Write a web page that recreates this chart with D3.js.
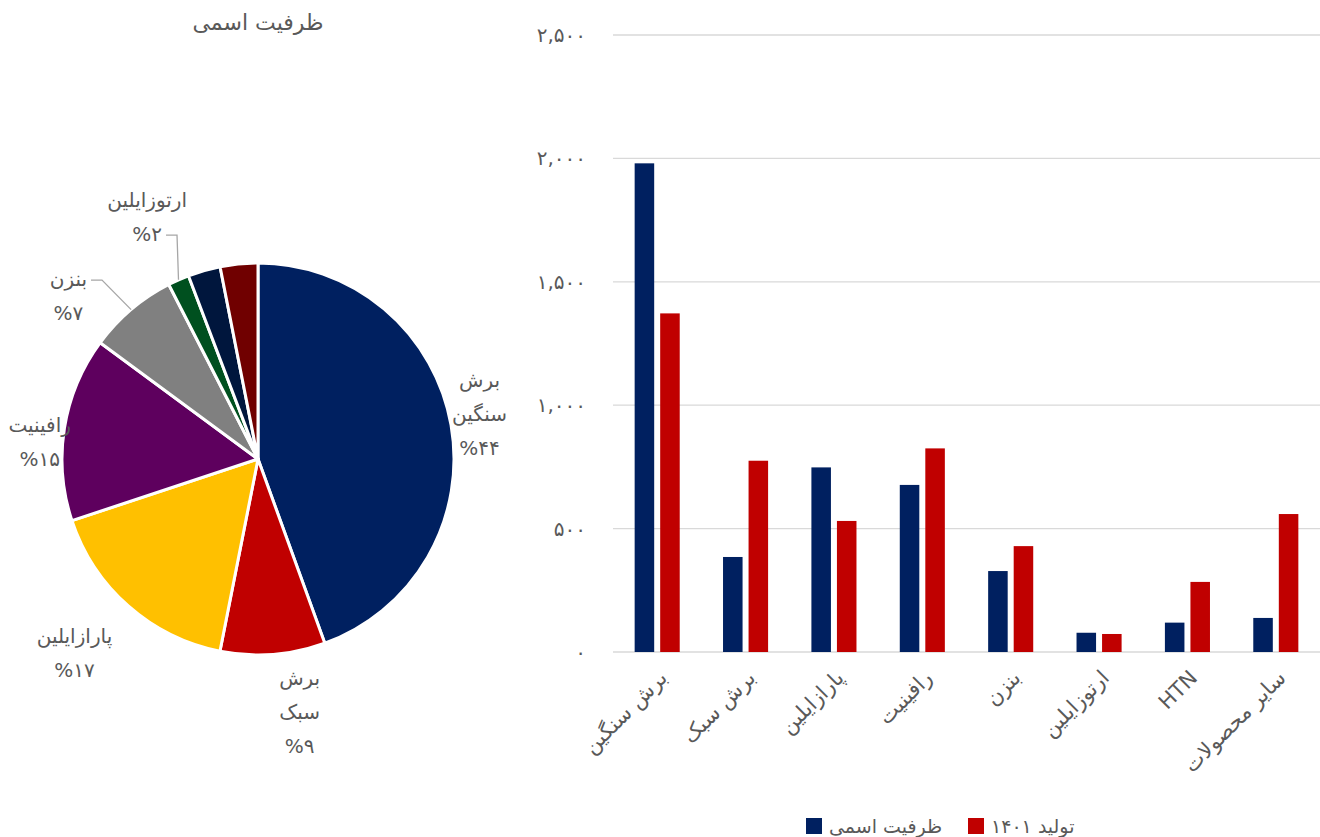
<!DOCTYPE html>
<html>
<head>
<meta charset="utf-8">
<script src="https://cdn.jsdelivr.net/npm/d3@7/dist/d3.min.js"></script>
<style>
  body { margin: 0; background: #fff; }
  svg text { font-family: 'DejaVu Sans', sans-serif; fill: #595959; }
</style>
</head>
<body>
<svg id="chart" width="1320" height="837"></svg>
<script>
// Capacity vs. 1401 production by product, plus a pie of capacity shares.

const categories = ['برش سنگین', 'برش سبک', 'پارازایلین', 'رافینیت', 'بنزن', 'ارتوزایلین', 'HTN', 'سایر محصولات'];
const capacity   = [1980, 385, 748, 677, 328, 78, 119, 138];
const production = [1372, 775, 531, 825, 429, 73, 284, 559];
const yTicks = [0, 500, 1000, 1500, 2000, 2500];
const seriesNames = ['ظرفیت اسمی', '۱۴۰۱ تولید'];
const pieTitle = 'ظرفیت اسمی';
// pie label text (lines); slices without labels get null
const pieLabelLines = [['برش', 'سنگین'], ['برش', 'سبک'], ['پارازایلین'], ['رافینیت'], ['بنزن'], ['ارتوزایلین'], null, null];

const SERIES_COLORS = ['#002060', '#C00000'];
const PIE_COLORS = ['#002060', '#C00000', '#FFC000', '#5E005E', '#808080', '#00501F', '#00163D', '#700000'];
// label placement around the pie: distance from centre, angle nudge (deg), leader line?
const LABEL_PLACE = [
  { d: 226, da: -1.5, leader: false },
  { d: 256, da: -5,   leader: false },
  { d: 267, da: 2,    leader: false },
  { d: 219, da: -4.7, leader: false },
  { d: 250, da: -9,   leader: true, leaderLine: 0 },
  { d: 266, da: -0.7, leader: true, leaderLine: 1 },
];

const FA_DIGITS = '۰۱۲۳۴۵۶۷۸۹';
const toFa = s => String(s).replace(/[0-9]/g, c => FA_DIGITS[+c]);

const svg = d3.select('#chart');

// ---------- Bar chart ----------
const M = { left: 613, right: 1320, top: 35, bottom: 652 };

const x = d3.scaleBand()
  .domain(categories)
  .range([M.left, M.right])
  .paddingInner(0.49)
  .paddingOuter(0.245);

const xs = d3.scaleBand()
  .domain([0, 1])
  .range([0, x.bandwidth()])
  .paddingInner(0.235);

const y = d3.scaleLinear()
  .domain([0, 2500])
  .range([M.bottom, M.top]);

// gridlines
svg.append('g')
  .selectAll('line')
  .data(yTicks)
  .join('line')
  .attr('x1', M.left).attr('x2', M.right)
  .attr('y1', d => y(d)).attr('y2', d => y(d))
  .attr('stroke', '#D9D9D9')
  .attr('stroke-width', 1.3);

// y axis labels
const yAxis = d3.axisLeft(y)
  .tickValues(yTicks)
  .tickFormat(d => toFa(d3.format(',')(d)))
  .tickSize(0)
  .tickPadding(0);

svg.append('g')
  .attr('transform', 'translate(586,0)')
  .call(yAxis)
  .call(ax => ax.select('.domain').remove())
  .call(ax => ax.selectAll('.tick text')
    .attr('font-size', 20)
    .attr('fill', '#595959'));

// bars
const rows = categories.map((c, i) => ({ cat: c, vals: [capacity[i], production[i]] }));

svg.append('g')
  .selectAll('g')
  .data(rows)
  .join('g')
  .attr('transform', d => `translate(${x(d.cat)},0)`)
  .selectAll('rect')
  .data(d => d.vals.map((v, k) => ({ k, v })))
  .join('rect')
  .attr('x', d => xs(d.k))
  .attr('width', xs.bandwidth())
  .attr('y', d => y(d.v))
  .attr('height', d => y(0) - y(d.v))
  .attr('fill', d => SERIES_COLORS[d.k]);

// x labels, rotated
svg.append('g')
  .selectAll('text')
  .data(categories)
  .join('text')
  .attr('transform', d => `translate(${x(d) + x.bandwidth() / 2 + 6},${M.bottom + 22}) rotate(-45)`)
  .attr('text-anchor', 'end')
  .attr('dy', '0.35em')
  .attr('font-size', 21)
  .text(d => d);

// legend
const legend = svg.append('g').attr('transform', 'translate(806,818)');
const legendX = [0, 162];
seriesNames.forEach((name, i) => {
  const lg = legend.append('g').attr('transform', `translate(${legendX[i]},0)`);
  lg.append('rect').attr('width', 16).attr('height', 16).attr('fill', SERIES_COLORS[i]);
  lg.append('text').attr('x', 23).attr('y', 8).attr('dy', '0.35em')
    .attr('font-size', 19).text(name);
});

// ---------- Pie chart ----------
const cx = 258, cy = 459, R = 196;

svg.append('text')
  .attr('x', cx).attr('y', 22)
  .attr('text-anchor', 'middle').attr('dy', '0.35em')
  .attr('font-size', 22)
  .text(pieTitle);

const pie = d3.pie().sort(null).value(d => d);
const arcs = pie(capacity);
const total = d3.sum(capacity);

const arc = d3.arc().innerRadius(0).outerRadius(R);

const pg = svg.append('g').attr('transform', `translate(${cx},${cy})`);
pg.selectAll('path')
  .data(arcs)
  .join('path')
  .attr('d', arc)
  .attr('fill', (d, i) => PIE_COLORS[i])
  .attr('stroke', '#fff')
  .attr('stroke-width', 3)
  .attr('stroke-linejoin', 'round');

const LINE_H = 34;
arcs.forEach((a, i) => {
  if (!pieLabelLines[i]) return;
  const place = LABEL_PLACE[i];
  const mid = (a.startAngle + a.endAngle) / 2;
  const ang = mid + place.da * Math.PI / 180;
  const lx = place.d * Math.sin(ang);
  const ly = -place.d * Math.cos(ang);
  const pct = Math.round(a.value / total * 100);
  const lines = pieLabelLines[i].concat(['%' + toFa(pct)]);
  const top = ly - (lines.length - 1) * LINE_H / 2;

  const t = pg.append('text')
    .attr('text-anchor', 'middle')
    .attr('font-size', 20);
  const spans = lines.map((ln, j) => t.append('tspan')
    .attr('x', lx).attr('y', top + j * LINE_H)
    .attr('dy', '0.35em')
    .text(ln));

  if (place.leader) {
    const j = place.leaderLine;
    const w = spans[j].node().getComputedTextLength();
    const ex = lx + w / 2 + 4, ey = top + j * LINE_H + 1;
    const px = R * Math.sin(mid), py = -R * Math.cos(mid);
    pg.append('polyline')
      .attr('points', `${ex},${ey} ${ex + 11},${ey} ${px},${py}`)
      .attr('fill', 'none')
      .attr('stroke', '#A6A6A6')
      .attr('stroke-width', 1.3);
  }
});
</script>
</body>
</html>
